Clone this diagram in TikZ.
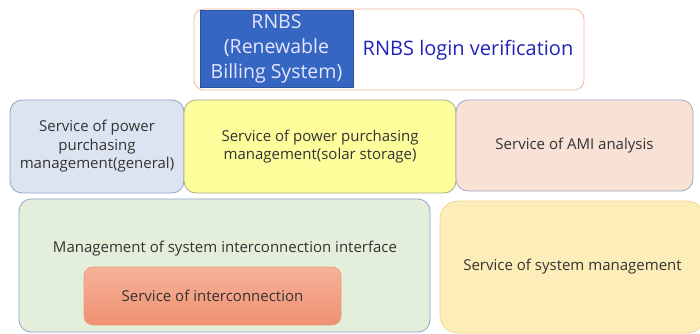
\documentclass[tikz,border=0pt]{standalone}
\usepackage{fontspec}
\setmainfont{Open Sans}
\definecolor{txt}{HTML}{333333}
\definecolor{bluefill}{HTML}{3566C2}
\definecolor{blueedge}{HTML}{2A52A0}
\definecolor{outeredge}{HTML}{F0B8A0}
\definecolor{loginblue}{HTML}{2222BB}
\definecolor{genfill}{HTML}{DCE4F2}
\definecolor{genedge}{HTML}{8FA3C8}
\definecolor{solarfill}{HTML}{FDFD9C}
\definecolor{solaredge}{HTML}{A8AA8A}
\definecolor{amifill}{HTML}{F8E2D6}
\definecolor{amiedge}{HTML}{9FA8C0}
\definecolor{greenfill}{HTML}{E3EFDA}
\definecolor{greenedge}{HTML}{8FA3C8}
\definecolor{orangetop}{HTML}{F6B29A}
\definecolor{orangebot}{HTML}{F09070}
\definecolor{orangeedge}{HTML}{E8A080}
\definecolor{sysfill}{HTML}{FDEDB8}
\definecolor{sysedge}{HTML}{F2D88A}
\tikzset{
  box/.style={draw, rounded corners=12pt, line width=0.8pt, inner sep=0pt, align=center, text=txt,
    font=\fontsize{15}{18.5}\selectfont},
}
\begin{document}
\begin{tikzpicture}[x=1pt,y=-1pt]
\useasboundingbox (0,0) rectangle (700,333);
\fill[white] (0,0) rectangle (700,333);
% top
\node[box, draw=outeredge, fill=white, rounded corners=10pt, minimum width=390pt, minimum height=81pt] (top) at (389,49.5) {};
\node[draw=blueedge, fill=bluefill, minimum width=153pt, minimum height=77pt, inner sep=0pt, align=center,
  text=white!90!blue, font=\fontsize{19.5}{25}\selectfont] (rnbs) at (276.5,48.5) {RNBS\\(Renewable\\Billing System)};
\node[text=loginblue, font=\fontsize{20}{24}\selectfont, inner sep=0pt] (login) at (468,50) {RNBS login verification};
% row 2
\node[box, draw=genedge, fill=genfill, minimum width=174pt, minimum height=93pt] (gen) at (97,146.5) {Service of power\\purchasing\\management(general)};
\node[box, draw=solaredge, fill=solarfill, minimum width=272pt, minimum height=93pt] (solar) at (320,146.5) {Service of power purchasing\\management(solar storage)};
\node[box, draw=amiedge, fill=amifill, minimum width=237pt, minimum height=91pt] (ami) at (574.5,145.5) {Service of AMI analysis};
% row 3
\node[box, draw=greenedge, fill=greenfill, minimum width=411pt, minimum height=133pt] (green) at (224.5,265.5) {};
\node[text=txt, font=\fontsize{15}{18.5}\selectfont, inner sep=0pt] (mgmt) at (225,249) {Management of system interconnection interface};
\node[box, draw=orangeedge, top color=orangetop, bottom color=orangebot, rounded corners=9pt, minimum width=257pt, minimum height=58pt] (inter) at (212.5,296) {Service of interconnection};
\node[box, draw=sysedge, fill=sysfill, rounded corners=18pt, minimum width=265pt, minimum height=132pt] (sys) at (572.5,267) {Service of system management};
\end{tikzpicture}
\end{document}
